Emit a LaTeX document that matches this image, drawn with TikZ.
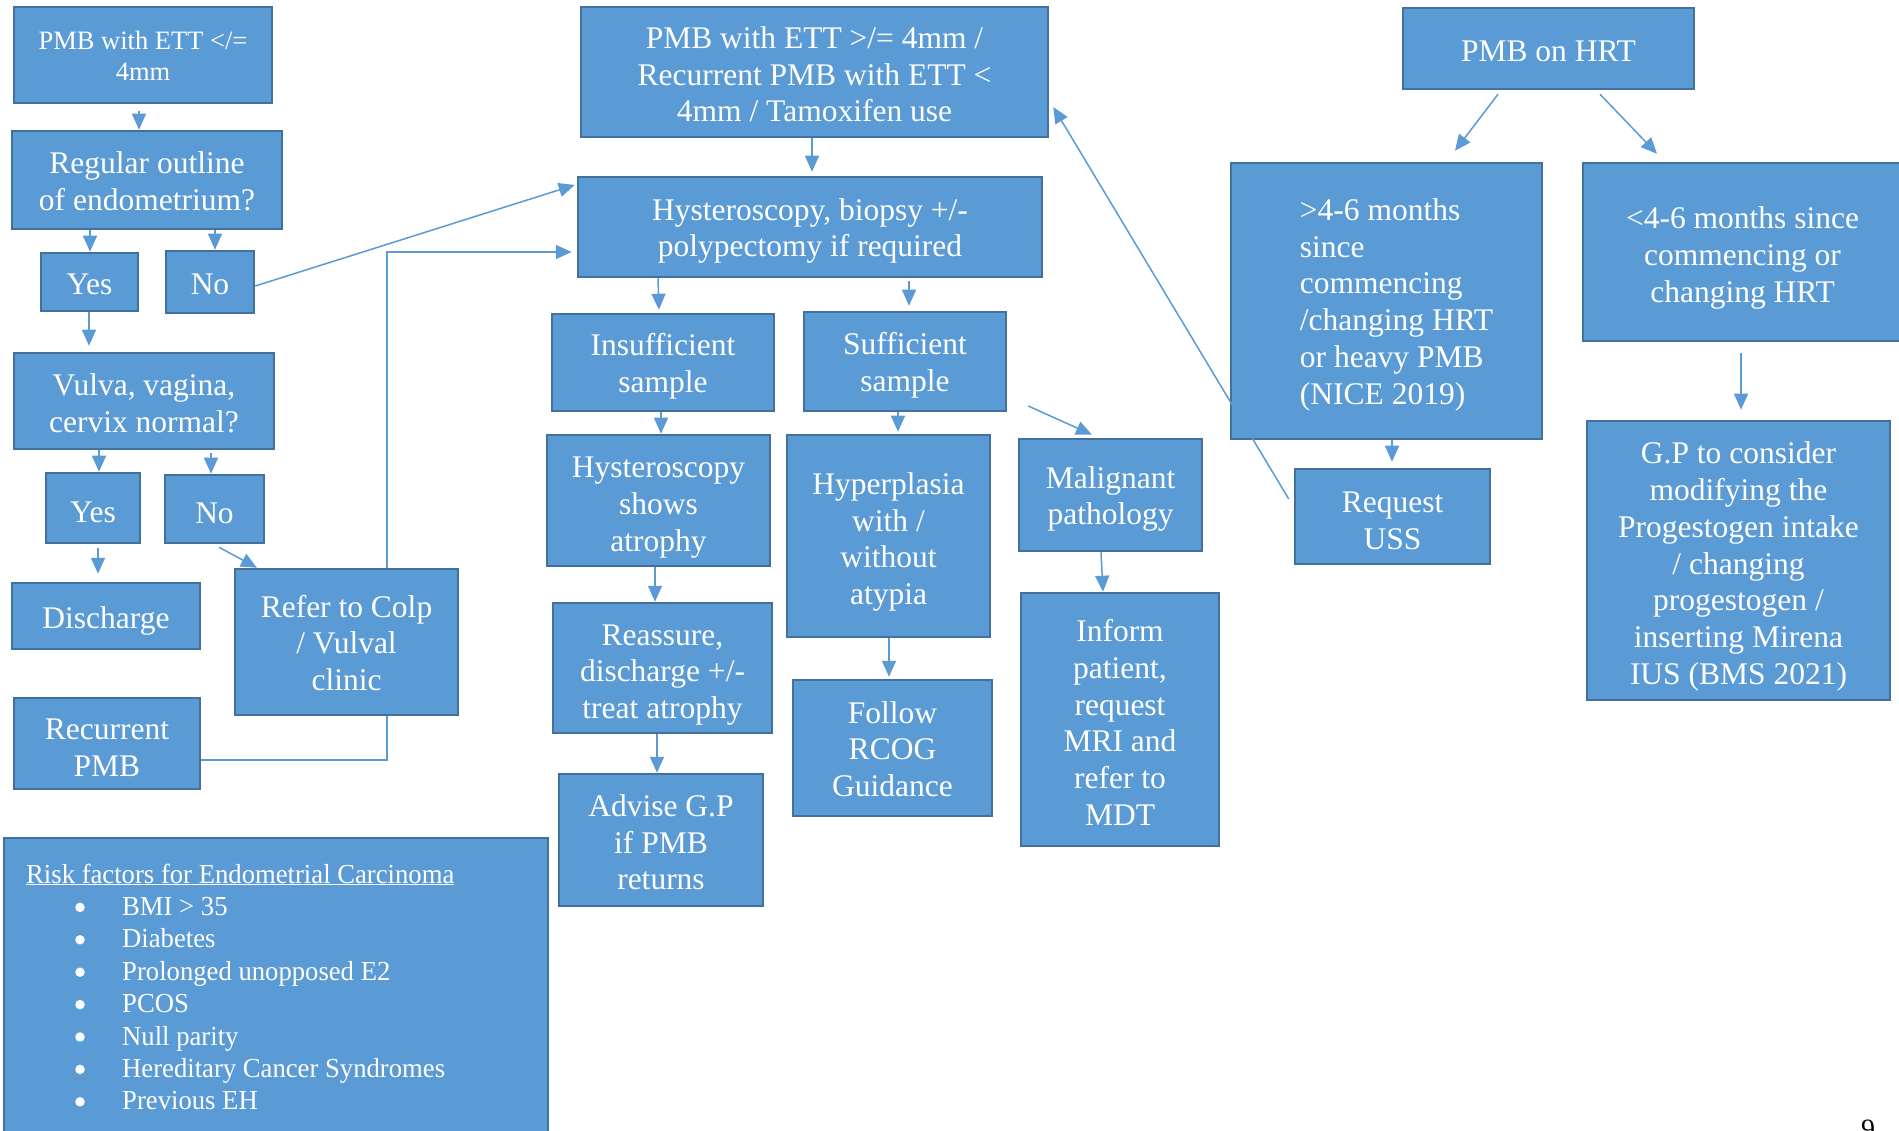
\documentclass[tikz,border=0pt]{standalone}
\usepackage{fontspec}
\setmainfont{Liberation Serif}
\newfontfamily\riskfont[FakeStretch=0.97]{Liberation Serif}
\usetikzlibrary{arrows.meta,backgrounds,calc}
\definecolor{boxfill}{HTML}{5B9BD5}
\definecolor{boxline}{HTML}{41719C}
\definecolor{conn}{HTML}{5B9BD5}
\newcommand\mainsz{\fontsize{31.5}{36.7}\selectfont}
\newcommand\smallsz{\fontsize{26.5}{31}\selectfont}
\newcommand\risksz{\riskfont\fontsize{27.5}{32.4}\selectfont}
% \bx[text options]{name}{x1}{y1}{x2}{y2}{text}
\newcommand{\bx}[7][]{%
  \node[box,minimum width={(#5-#3)*1pt},minimum height={(#6-#4)*1pt}] (#2) at ({(#3+#5)/2},{(#4+#6)/2}) {};
  \node[boxtext,#1] (#2-t) at ($(#2.center)+(0,4)$) {#7};}
\begin{document}
\begin{tikzpicture}[x=1pt,y=-1pt,
  box/.style={draw=boxline,fill=boxfill,line width=2.5pt,inner sep=0pt},
  boxtext/.style={text=white,align=center,inner sep=0pt,font=\mainsz},
  arr/.style={draw=conn,line width=1.5pt,-{Triangle[length=16pt,width=14pt]}},
  risktxt/.style={text=white,inner sep=0pt,font=\risksz},
  riskdot/.style={circle,fill=white,inner sep=0pt,minimum size=9.5pt}]
\useasboundingbox (0,0) rectangle (1899,1131);
\begin{scope}[on background layer]
  \fill[white] (0,0) rectangle (1899,1131);
\end{scope}
\clip (0,0) rectangle (1899,1131);

% left column
\bx[font=\smallsz,yshift=3pt]{ett}{14}{7}{272}{103}{PMB with ETT </=\\4mm}
\bx[yshift=3pt]{reg}{12}{131}{282}{229}{Regular outline\\of endometrium?}
\bx[yshift=1.5pt]{yes1}{41}{253}{138}{311}{Yes}
\bx[yshift=1.5pt]{no1}{166}{251}{254}{313}{No}
\bx[yshift=1.5pt]{vulva}{14}{353}{274}{449}{Vulva, vagina,\\cervix normal?}
\bx{yes2}{46}{473}{140}{543}{Yes}
\bx{no2}{165}{475}{264}{543}{No}
\bx[yshift=-1pt]{disch}{12}{583}{200}{649}{Discharge}
\bx[yshift=3pt]{refer}{235}{569}{458}{715}{Refer to Colp\\/ Vulval\\clinic}
\bx{recur}{14}{698}{200}{789}{Recurrent\\PMB}

% middle
\bx[yshift=1.5pt]{ett2}{581}{7}{1048}{137}{PMB with ETT >/= 4mm /\\Recurrent PMB with ETT <\\4mm / Tamoxifen use}
\bx{hyst}{578}{177}{1042}{277}{Hysteroscopy, biopsy +/-\\polypectomy if required}
\bx{insuf}{552}{314}{774}{411}{Insufficient\\sample}
\bx{suf}{804}{312}{1006}{411}{Sufficient\\sample}
\bx[yshift=-3pt]{atro}{547}{435}{770}{566}{Hysteroscopy\\shows\\atrophy}
\bx[yshift=-2pt]{hyper}{787}{435}{990}{637}{Hyperplasia\\with /\\without\\atypia}
\bx{malig}{1019}{439}{1202}{551}{Malignant\\pathology}
\bx[yshift=-3pt]{reas}{553}{603}{772}{733}{Reassure,\\discharge +/-\\treat atrophy}
\bx[yshift=1.5pt]{advise}{559}{774}{763}{906}{Advise G.P\\if PMB\\returns}
\bx[yshift=3pt]{follow}{793}{680}{992}{816}{Follow\\RCOG\\Guidance}
\bx[yshift=1pt]{inform}{1021}{593}{1219}{846}{Inform\\patient,\\request\\MRI and\\refer to\\MDT}

% right
\bx[yshift=1.5pt]{hrt}{1403}{8}{1694}{89}{PMB on HRT}
\bx{gt46}{1231}{163}{1542}{439}{\hspace*{20pt}\begin{tabular}{@{}l@{}}>4-6 months\\since\\commencing\\/changing HRT\\or heavy PMB\\(NICE 2019)\end{tabular}}
\bx[yshift=-2pt]{lt46}{1583}{163}{1902}{341}{<4-6 months since\\commencing or\\changing HRT}
\bx{uss}{1295}{469}{1490}{564}{Request\\USS}
\bx[yshift=-2pt]{gp}{1587}{421}{1890}{700}{G.P to consider\\modifying the\\Progestogen intake\\/ changing\\progestogen /\\inserting Mirena\\IUS (BMS 2021)}

% risk factors
\node[box,minimum width=544pt,minimum height=307pt] (risk) at (276,991.5) {};
\node[risktxt,anchor=base west] (rtitle) at (26,883) {\underline{Risk factors for Endometrial Carcinoma}};
\foreach \t [count=\i] in {BMI > 35,Diabetes,Prolonged unopposed E2,PCOS,Null parity,Hereditary Cancer Syndromes,Previous EH}{
  \node[riskdot] (rdot\i) at (80,{883+32.4*\i-8}) {};
  \node[risktxt,anchor=base west] (ritem\i) at (122,{883+32.4*\i}) {\t};
}

\node[anchor=base west,inner sep=0pt,text=black,font=\fontsize{28}{30}\selectfont] (pnum) at (1861,1138) {9};

% connector behind the Refer box
\coordinate (bend1) at (387,760);
\coordinate (bend2) at (387,252);
\begin{scope}[on background layer]
  \draw[arr] (recur.east |- bend1) -- (bend1) -- (bend2) -- ($(hyst.west |- bend2)+(-5,0)$);
\end{scope}

% connectors
\draw[arr] ($(ett.south -| 139,0)+(0,7)$) -- (reg.north -| 139,0);
\draw[arr] (reg.south -| 90,0) -- (yes1.north -| 90,0);
\draw[arr] (reg.south -| 215,0) -- (no1.north -| 215,0);
\draw[arr] (no1.east |- 0,286) -- ($(hyst.west |- 0,185)+(-2,0)$);
\draw[arr] (yes1.south -| 89,0) -- ($(vulva.north -| 89,0)+(0,-6)$);
\draw[arr] (vulva.south -| 99,0) -- (yes2.north -| 99,0);
\draw[arr] ($(vulva.south -| 211,0)+(0,3)$) -- (no2.north -| 211,0);
\draw[arr] ($(yes2.south -| 98,0)+(0,4)$) -- ($(disch.north -| 98,0)+(0,-8)$);
\draw[arr] ($(no2.south -| 219,0)+(0,3)$) -- (refer.north -| 257,0);

\draw[arr] (ett2.south -| 812,0) -- ($(hyst.north -| 812,0)+(0,-4)$);
\draw[arr] (hyst.south -| 658,0) -- ($(insuf.north -| 659,0)+(0,-3)$);
\draw[arr] ($(hyst.south -| 909,0)+(0,3)$) -- ($(suf.north -| 909,0)+(0,-5)$);
\draw[arr] (insuf.south -| 661,0) -- (atro.north -| 661,0);
\draw[arr] (suf.south -| 898,0) -- ($(hyper.north -| 898,0)+(0,-2)$);
\draw[arr] ($(suf.east |- 0,406)+(21,0)$) -- ($(malig.north -| 1092,0)+(0,-3)$);
\draw[arr] (atro.south -| 655,0) -- (reas.north -| 655,0);
\draw[arr] (reas.south -| 657,0) -- (advise.north -| 657,0);
\draw[arr] (hyper.south -| 889,0) -- ($(follow.north -| 889,0)+(0,-2)$);
\draw[arr] (malig.south -| 1101,0) -- (inform.north -| 1103,0);

\draw[arr] ($(hrt.south -| 1498,0)+(0,4)$) -- ($(gt46.north -| 1455,0)+(0,-11)$);
\draw[arr] ($(hrt.south -| 1600,0)+(0,4)$) -- ($(lt46.north -| 1657,0)+(0,-8)$);
\draw[arr] (gt46.south -| 1392,0) -- ($(uss.north -| 1392,0)+(0,-6)$);
\draw[arr] ($(lt46.south -| 1741,0)+(0,11)$) -- ($(gp.north -| 1741,0)+(0,-10)$);
\draw[arr] ($(uss.west |- 0,499)+(-5,0)$) -- ($(ett2.east |- 0,107)+(4,0)$);
\end{tikzpicture}
\end{document}
